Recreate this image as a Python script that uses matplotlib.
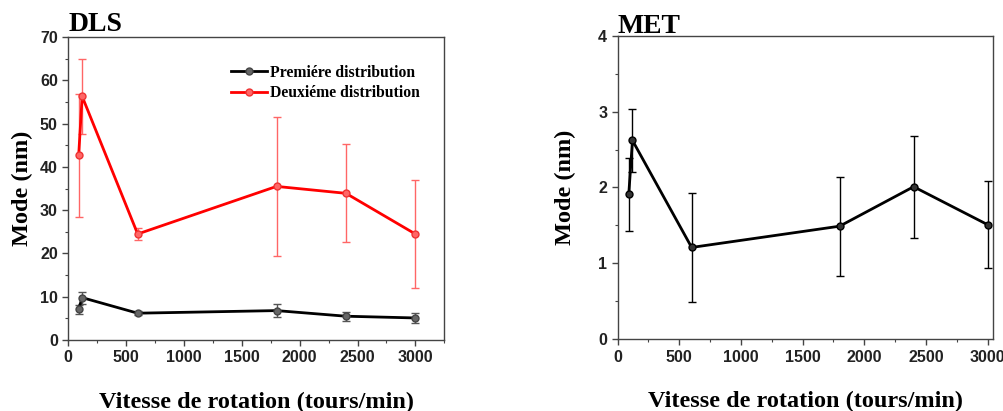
import matplotlib
matplotlib.use("Agg")
import matplotlib.pyplot as plt
from matplotlib.ticker import MultipleLocator

# rotation speeds (tours/min)
speed = [90, 120, 600, 1800, 2400, 3000]

# DLS
dls_first = [7.1, 9.8, 6.2, 6.8, 5.5, 5.1]
dls_first_err = [1.0, 1.4, 0.4, 1.5, 1.0, 1.1]
dls_second = [42.7, 56.3, 24.5, 35.5, 33.9, 24.5]
dls_second_err = [14.2, 8.7, 1.3, 16.1, 11.3, 12.4]

# MET
met = [1.91, 2.62, 1.21, 1.49, 2.01, 1.51]
met_err = [0.48, 0.41, 0.72, 0.65, 0.67, 0.57]

serif = "Liberation Serif"
sans = "Liberation Sans"

fig = plt.figure(figsize=(10.04, 4.11), dpi=100)
ax1 = fig.add_axes([0.068, 0.1727, 0.3745, 0.737])
ax2 = fig.add_axes([0.6152, 0.1745, 0.374, 0.7387])


def style_axes(ax, ylab_x):
    for s in ax.spines.values():
        s.set_color("#444444")
        s.set_linewidth(1.0)
    ax.tick_params(which="both", direction="out", color="#444444",
                   top=False, right=False)
    ax.tick_params(which="major", length=4, width=1)
    ax.tick_params(which="minor", length=2.5, width=0.8)
    for lab in ax.get_xticklabels() + ax.get_yticklabels():
        lab.set_fontfamily(sans)
        lab.set_fontweight("bold")
        lab.set_fontsize(11.5)
        lab.set_color("#222222")
    ax.set_xlabel("Vitesse de rotation (tours/min)", fontfamily=serif,
                  fontweight="bold", fontsize=17.5)
    ax.set_ylabel("Mode (nm)", fontfamily=serif, fontweight="bold",
                  fontsize=17.5)
    ax.xaxis.set_label_coords(0.5, -0.17)
    ax.yaxis.set_label_coords(ylab_x, 0.5)


# --- DLS panel ---
ax1.errorbar(speed, dls_first, yerr=dls_first_err, fmt="none",
             ecolor="#555555", elinewidth=1, capsize=3)
ax1.errorbar(speed, dls_second, yerr=dls_second_err, fmt="none",
             ecolor="#ff6666", elinewidth=1, capsize=3)
ax1.plot(speed, dls_first, color="black", lw=2, marker="o", ms=5,
         mfc="#666666", mec="#444444", label="Premiére distribution")
ax1.plot(speed, dls_second, color="red", lw=2, marker="o", ms=5,
         mfc="#ff6666", mec="#ee3333", label="Deuxiéme distribution")
ax1.set_xlim(0, 3250)
ax1.set_ylim(0, 70)
ax1.xaxis.set_major_locator(MultipleLocator(500))
ax1.xaxis.set_minor_locator(MultipleLocator(250))
ax1.yaxis.set_major_locator(MultipleLocator(10))
ax1.yaxis.set_minor_locator(MultipleLocator(5))
style_axes(ax1, -0.095)
ax1.legend(loc="upper left", bbox_to_anchor=(0.415, 0.93), frameon=False,
           prop={"family": serif, "weight": "bold", "size": 11.3},
           handlelength=2.3, handletextpad=0.2, labelspacing=0.3,
           borderaxespad=0)
ax1.text(0.0, 1.0, "DLS", transform=ax1.transAxes, fontfamily=serif,
         fontweight="bold", fontsize=20, ha="left", va="bottom")

# --- MET panel ---
ax2.errorbar(speed, met, yerr=met_err, color="black", lw=2,
             marker="o", ms=5, mfc="#333333", mec="black",
             ecolor="black", elinewidth=1, capsize=3)
ax2.set_xlim(0, 3045)
ax2.set_ylim(0, 4)
ax2.xaxis.set_major_locator(MultipleLocator(500))
ax2.xaxis.set_minor_locator(MultipleLocator(250))
ax2.yaxis.set_major_locator(MultipleLocator(1))
ax2.yaxis.set_minor_locator(MultipleLocator(0.5))
style_axes(ax2, -0.112)
ax2.text(0.0, 0.99, "MET", transform=ax2.transAxes, fontfamily=serif,
         fontweight="bold", fontsize=20, ha="left", va="bottom")

fig.savefig("out.png", dpi=100)
